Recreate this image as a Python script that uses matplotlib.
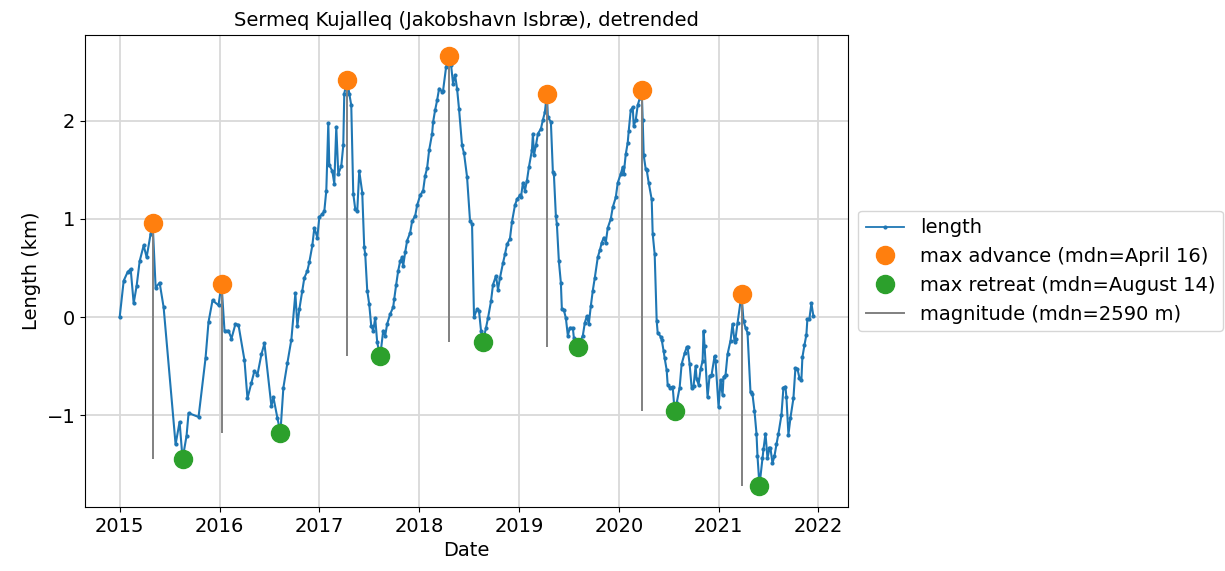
import numpy as np
import matplotlib
matplotlib.use("Agg")
import matplotlib.pyplot as plt
from matplotlib.lines import Line2D

# detrended terminus position, decimal year -> km
years = [
    2015.00, 2015.04, 2015.08, 2015.11, 2015.14, 2015.17, 2015.20, 2015.24, 2015.27, 2015.31,
    2015.33, 2015.36, 2015.40, 2015.44, 2015.56, 2015.60, 2015.63, 2015.67, 2015.69, 2015.79,
    2015.86, 2015.89, 2015.93, 2015.99, 2016.02, 2016.05, 2016.09, 2016.12, 2016.16, 2016.19,
    2016.25, 2016.28, 2016.32, 2016.35, 2016.38, 2016.42, 2016.45, 2016.52, 2016.54, 2016.58,
    2016.61, 2016.64, 2016.68, 2016.72, 2016.76, 2016.78, 2016.80, 2016.83, 2016.85, 2016.88,
    2016.90, 2016.93, 2016.95, 2016.98, 2017.00, 2017.03, 2017.05, 2017.07, 2017.09, 2017.10,
    2017.13, 2017.15, 2017.17, 2017.19, 2017.22, 2017.24, 2017.25, 2017.28, 2017.30, 2017.32,
    2017.34, 2017.36, 2017.38, 2017.40, 2017.43, 2017.45, 2017.46, 2017.48, 2017.50, 2017.52,
    2017.54, 2017.56, 2017.58, 2017.61, 2017.64, 2017.66, 2017.68, 2017.71, 2017.74, 2017.75,
    2017.77, 2017.79, 2017.81, 2017.83, 2017.84, 2017.86, 2017.88, 2017.91, 2017.93, 2017.96,
    2017.98, 2018.01, 2018.04, 2018.06, 2018.08, 2018.10, 2018.13, 2018.14, 2018.16, 2018.18,
    2018.20, 2018.23, 2018.24, 2018.27, 2018.30, 2018.32, 2018.34, 2018.36, 2018.38, 2018.40,
    2018.43, 2018.45, 2018.48, 2018.51, 2018.53, 2018.55, 2018.58, 2018.60, 2018.62, 2018.64,
    2018.67, 2018.69, 2018.72, 2018.74, 2018.77, 2018.79, 2018.81, 2018.84, 2018.86, 2018.88,
    2018.91, 2018.93, 2018.96, 2018.98, 2019.01, 2019.02, 2019.04, 2019.06, 2019.08, 2019.10,
    2019.13, 2019.14, 2019.15, 2019.17, 2019.19, 2019.22, 2019.24, 2019.26, 2019.28, 2019.29,
    2019.32, 2019.34, 2019.35, 2019.37, 2019.38, 2019.40, 2019.42, 2019.43, 2019.45, 2019.47,
    2019.49, 2019.51, 2019.54, 2019.55, 2019.59, 2019.64, 2019.66, 2019.68, 2019.70, 2019.72,
    2019.74, 2019.76, 2019.79, 2019.81, 2019.83, 2019.85, 2019.87, 2019.89, 2019.92, 2019.94,
    2019.97, 2019.99, 2020.02, 2020.04, 2020.05, 2020.07, 2020.09, 2020.10, 2020.12, 2020.14,
    2020.15, 2020.17, 2020.19, 2020.21, 2020.23, 2020.24, 2020.25, 2020.27, 2020.28, 2020.30,
    2020.33, 2020.34, 2020.36, 2020.38, 2020.39, 2020.42, 2020.43, 2020.45, 2020.46, 2020.48,
    2020.49, 2020.51, 2020.54, 2020.56, 2020.58, 2020.61, 2020.63, 2020.66, 2020.68, 2020.69,
    2020.71, 2020.73, 2020.75, 2020.77, 2020.78, 2020.80, 2020.82, 2020.84, 2020.85, 2020.86,
    2020.89, 2020.91, 2020.93, 2020.96, 2020.97, 2021.00, 2021.02, 2021.04, 2021.05, 2021.07,
    2021.09, 2021.12, 2021.14, 2021.16, 2021.17, 2021.19, 2021.23, 2021.25, 2021.27, 2021.29,
    2021.32, 2021.34, 2021.36, 2021.38, 2021.39, 2021.41, 2021.44, 2021.45, 2021.47, 2021.49,
    2021.51, 2021.52, 2021.54, 2021.56, 2021.58, 2021.60, 2021.63, 2021.65, 2021.67, 2021.68,
    2021.70, 2021.72, 2021.75, 2021.77, 2021.79, 2021.81, 2021.83, 2021.84, 2021.86, 2021.88,
    2021.89, 2021.91, 2021.93, 2021.95,
]
length_km = [
    0.00, 0.37, 0.46, 0.49, 0.14, 0.32, 0.57, 0.73, 0.61, 0.85,
    0.96, 0.30, 0.35, 0.10, -1.30, -1.07, -1.45, -1.21, -0.98, -1.02,
    -0.42, -0.05, 0.17, 0.12, 0.34, -0.14, -0.14, -0.22, -0.07, -0.08,
    -0.44, -0.83, -0.67, -0.55, -0.59, -0.38, -0.27, -0.91, -0.82, -1.03,
    -1.18, -0.72, -0.47, -0.23, 0.24, -0.09, 0.08, 0.27, 0.40, 0.47,
    0.56, 0.73, 0.91, 0.81, 1.02, 1.05, 1.08, 1.29, 1.98, 1.55,
    1.49, 1.36, 1.94, 1.46, 1.54, 1.75, 2.28, 2.42, 2.28, 2.16,
    1.26, 1.10, 1.08, 1.49, 1.27, 0.71, 0.64, 0.27, 0.13, -0.09,
    -0.14, -0.01, -0.26, -0.40, -0.14, -0.19, -0.07, 0.03, 0.10, 0.18,
    0.33, 0.47, 0.57, 0.61, 0.52, 0.66, 0.78, 0.86, 0.98, 1.03,
    1.14, 1.24, 1.29, 1.44, 1.52, 1.70, 1.87, 1.99, 2.11, 2.21,
    2.33, 2.30, 2.31, 2.55, 2.66, 2.57, 2.38, 2.47, 2.33, 2.12,
    1.75, 1.67, 1.43, 0.98, 0.95, 0.00, 0.08, 0.06, -0.14, -0.25,
    -0.11, -0.01, 0.16, 0.33, 0.42, 0.28, 0.40, 0.55, 0.64, 0.74,
    0.80, 0.97, 1.14, 1.20, 1.24, 1.22, 1.37, 1.29, 1.39, 1.53,
    1.70, 1.87, 1.65, 1.75, 1.87, 1.92, 2.01, 2.09, 2.28, 2.04,
    1.99, 1.48, 1.46, 1.03, 0.95, 0.57, 0.35, 0.08, 0.07, -0.01,
    -0.19, -0.11, -0.11, -0.21, -0.31, -0.19, -0.06, 0.01, -0.07, 0.11,
    0.27, 0.40, 0.61, 0.68, 0.76, 0.81, 0.76, 0.91, 1.00, 1.12,
    1.22, 1.37, 1.46, 1.53, 1.46, 1.66, 1.78, 1.90, 2.11, 2.14,
    1.95, 2.01, 2.16, 2.23, 2.32, 2.01, 1.65, 1.51, 1.50, 1.37,
    1.20, 0.85, 0.64, -0.04, -0.16, -0.20, -0.23, -0.35, -0.42, -0.54,
    -0.69, -0.72, -0.71, -0.96, -0.88, -0.72, -0.48, -0.37, -0.31, -0.31,
    -0.48, -0.72, -0.70, -0.50, -0.63, -0.69, -0.53, -0.45, -0.14, -0.30,
    -0.82, -0.60, -0.59, -0.40, -0.45, -0.92, -0.64, -0.80, -0.61, -0.59,
    -0.38, -0.24, -0.07, -0.25, -0.22, -0.06, 0.23, -0.04, -0.11, -0.16,
    -0.77, -0.79, -0.96, -1.19, -1.42, -1.72, -1.44, -1.35, -1.19, -1.44,
    -1.34, -1.34, -1.49, -1.42, -1.30, -1.19, -1.00, -0.72, -0.71, -0.82,
    -1.20, -1.03, -0.83, -0.52, -0.53, -0.62, -0.64, -0.41, -0.29, -0.18,
    -0.02, -0.02, 0.14, 0.01,
]

# yearly extremes of the series
adv_years = [2015.33, 2016.02, 2017.28, 2018.30, 2019.28, 2020.23, 2021.23]
adv_km = [0.96, 0.34, 2.42, 2.66, 2.28, 2.32, 0.23]
ret_years = [2015.63, 2016.61, 2017.61, 2018.64, 2019.59, 2020.56, 2021.41]
ret_km = [-1.45, -1.18, -0.40, -0.25, -0.31, -0.96, -1.72]

plt.rcParams["font.size"] = 14

fig = plt.figure(figsize=(12.25, 5.71), dpi=100)
ax = fig.add_axes([0.0694, 0.112, 0.6229, 0.827])

ax.grid(True, color="#d9d9d9", lw=1.3, zorder=0)
ax.set_axisbelow(True)

ax.plot(years, length_km, ".-", color="#1f77b4", lw=1.5, ms=4, zorder=2)
# magnitude: from each advance down to the following retreat
ax.vlines(adv_years, ret_km, adv_km, color="grey", lw=1.4, zorder=3)
ax.plot(adv_years, adv_km, "o", color="#ff7f0e", ms=13, zorder=4)
ax.plot(ret_years, ret_km, "o", color="#2ca02c", ms=13, zorder=4)

ax.set_xticks(range(2015, 2023))
ax.set_xticklabels([str(y) for y in range(2015, 2023)])
ax.set_xlabel("Date")
ax.set_ylabel("Length (km)")
ax.set_title("Sermeq Kujalleq (Jakobshavn Isbræ), detrended", fontsize=14)
ax.margins(x=0.05, y=0.05)

handles = [
    Line2D([], [], color="#1f77b4", lw=1.3, marker=".", ms=4),
    Line2D([], [], color="#ff7f0e", ls="none", marker="o", ms=13),
    Line2D([], [], color="#2ca02c", ls="none", marker="o", ms=13),
    Line2D([], [], color="grey", lw=1.4),
]
labels = [
    "length",
    "max advance (mdn=April 16)",
    "max retreat (mdn=August 14)",
    "magnitude (mdn=2590 m)",
]
ax.legend(handles, labels, loc="center left", bbox_to_anchor=(1.0, 0.5))

fig.savefig("out.png", dpi=100)
